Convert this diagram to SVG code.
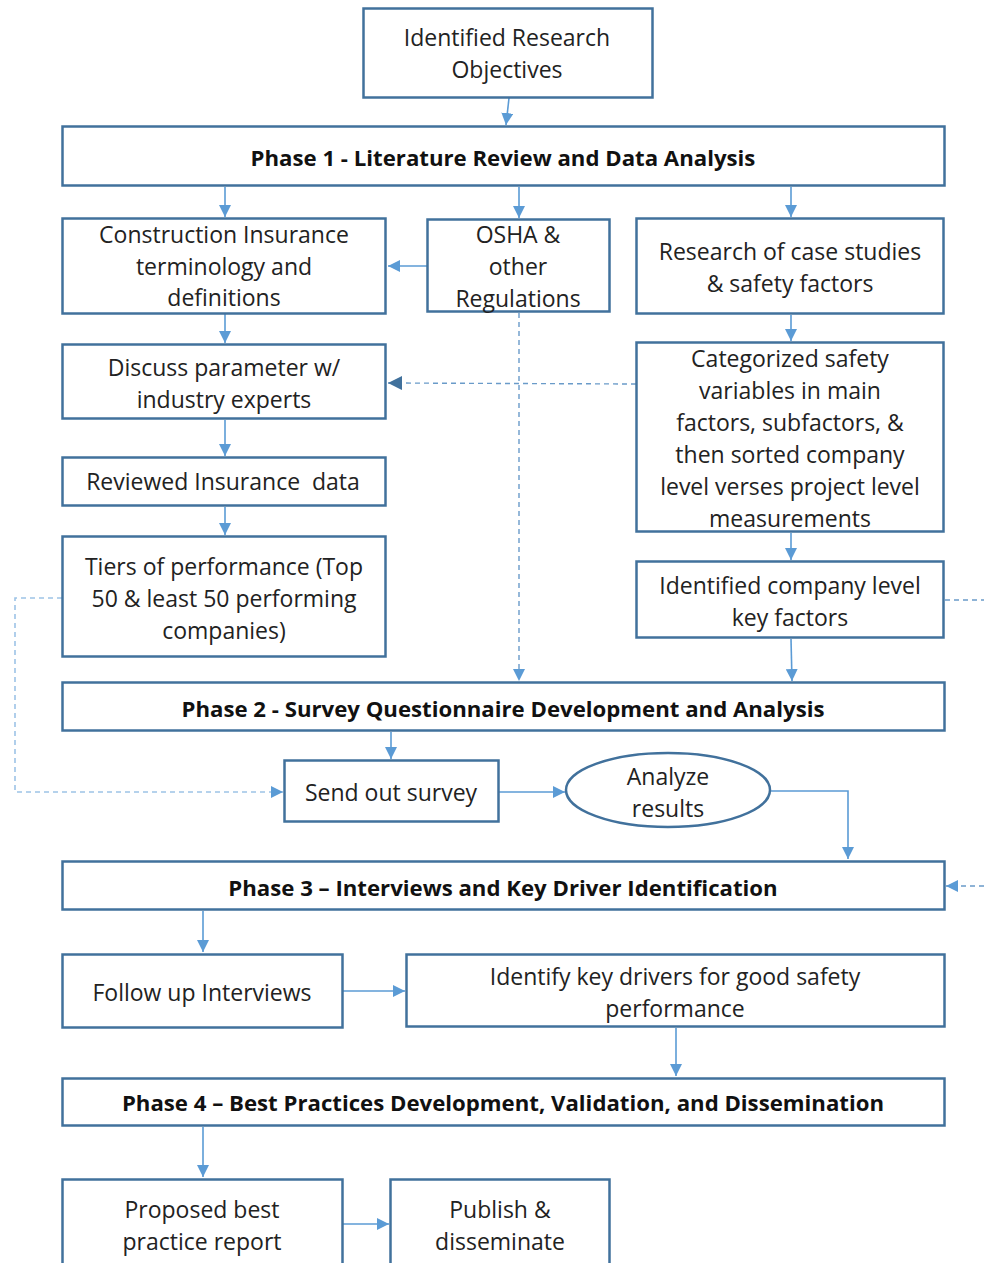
<svg xmlns="http://www.w3.org/2000/svg" width="984" height="1263" viewBox="0 0 984 1263">
<style>
.box{fill:#fff;stroke:#41719c;stroke-width:2.5}
.t{font-family:"Open Sans","Liberation Sans",sans-serif;font-size:23px;fill:#222;text-anchor:middle;dominant-baseline:central}
.b{font-family:"Open Sans","Liberation Sans",sans-serif;font-size:22.2px;font-weight:bold;fill:#111;text-anchor:middle;dominant-baseline:central}
.c{fill:none;stroke:#5b9bd5;stroke-width:1.6}
.d{fill:none;stroke:#6a9bc9;stroke-width:1.4;stroke-dasharray:5,4}
.dl{fill:none;stroke:#9dc3e6;stroke-width:1.6;stroke-dasharray:5,4}
</style>
<defs>
<marker id="a" viewBox="0 0 10 10" refX="10" refY="5" markerWidth="12" markerHeight="12" markerUnits="userSpaceOnUse" orient="auto">
<path d="M0,0L10,5L0,10z" fill="#5b9bd5"/>
</marker>
<marker id="ad" viewBox="0 0 10 10" refX="10" refY="5" markerWidth="14" markerHeight="14" markerUnits="userSpaceOnUse" orient="auto">
<path d="M0,0L10,5L0,10z" fill="#41719c"/>
</marker>
</defs>
<rect width="984" height="1263" fill="#fff"/>
<g id="connectors">
<path class="c" d="M509,98L506,125" marker-end="url(#a)"/>
<path class="c" d="M225,187L225,217" marker-end="url(#a)"/>
<path class="c" d="M519,187L519,218" marker-end="url(#a)"/>
<path class="c" d="M791,187L791,217" marker-end="url(#a)"/>
<path class="c" d="M427,266L388,266" marker-end="url(#a)"/>
<path class="c" d="M225,314L225,343" marker-end="url(#a)"/>
<path class="c" d="M791,315L791,341" marker-end="url(#a)"/>
<path class="d" d="M636,384L388,383" marker-end="url(#ad)"/>
<path class="d" d="M519,313L519,681" marker-end="url(#a)"/>
<path class="c" d="M225,420L225,456" marker-end="url(#a)"/>
<path class="c" d="M225,507L225,535" marker-end="url(#a)"/>
<path class="c" d="M791,533L791,560" marker-end="url(#a)"/>
<path class="c" d="M791,639L792,681" marker-end="url(#a)"/>
<path class="d" d="M945,600L984,600"/>
<path class="dl" d="M62,598L15,598L15,792L283,792" marker-end="url(#a)"/>
<path class="c" d="M391,732L391,759" marker-end="url(#a)"/>
<path class="c" d="M499,792L565,792" marker-end="url(#a)"/>
<path class="c" d="M770,791L848,791L848,859" marker-end="url(#a)"/>
<path class="d" d="M984,886L946,886" marker-end="url(#a)"/>
<path class="c" d="M203,911L203,952" marker-end="url(#a)"/>
<path class="c" d="M343,991L405,991" marker-end="url(#a)"/>
<path class="c" d="M676,1028L676,1076" marker-end="url(#a)"/>
<path class="c" d="M203,1127L203,1177" marker-end="url(#a)"/>
<path class="c" d="M343,1224L389,1224" marker-end="url(#a)"/>
</g>
<g id="n-objectives"><rect class="box" x="363.5" y="8.5" width="289" height="89"/><text class="t" x="507" y="37">Identified Research</text><text class="t" x="507" y="69">Objectives</text></g>
<g id="n-phase1"><rect class="box" x="62.5" y="126.5" width="882" height="59"/><text class="b" x="503" y="157">Phase 1 - Literature Review and Data Analysis</text></g>
<g id="n-construction"><rect class="box" x="62.5" y="218.5" width="323" height="95"/><text class="t" x="224" y="234">Construction Insurance</text><text class="t" x="224" y="266">terminology and</text><text class="t" x="224" y="297">definitions</text></g>
<g id="n-osha"><rect class="box" x="427.5" y="219.5" width="182" height="92"/><text class="t" x="518" y="234">OSHA &amp;</text><text class="t" x="518" y="266">other</text><text class="t" x="518" y="298">Regulations</text></g>
<g id="n-research"><rect class="box" x="636.5" y="218.5" width="307" height="95"/><text class="t" x="790" y="251">Research of case studies</text><text class="t" x="790" y="283">&amp; safety factors</text></g>
<g id="n-discuss"><rect class="box" x="62.5" y="344.5" width="323" height="74"/><text class="t" x="224" y="367">Discuss parameter w/</text><text class="t" x="224" y="399">industry experts</text></g>
<g id="n-categorized"><rect class="box" x="636.5" y="342.5" width="307" height="189"/><text class="t" x="790" y="358">Categorized safety</text><text class="t" x="790" y="390">variables in main</text><text class="t" x="790" y="422">factors, subfactors, &amp;</text><text class="t" x="790" y="454">then sorted company</text><text class="t" x="790" y="486">level verses project level</text><text class="t" x="790" y="518">measurements</text></g>
<g id="n-reviewed"><rect class="box" x="62.5" y="457.5" width="323" height="48"/><text class="t" x="223" y="481" xml:space="preserve">Reviewed Insurance  data</text></g>
<g id="n-tiers"><rect class="box" x="62.5" y="536.5" width="323" height="120"/><text class="t" x="224" y="566">Tiers of performance (Top</text><text class="t" x="224" y="598">50 &amp; least 50 performing</text><text class="t" x="224" y="630">companies)</text></g>
<g id="n-company"><rect class="box" x="636.5" y="561.5" width="307" height="76"/><text class="t" x="790" y="585">Identified company level</text><text class="t" x="790" y="617">key factors</text></g>
<g id="n-phase2"><rect class="box" x="62.5" y="682.5" width="882" height="48"/><text class="b" x="503" y="708">Phase 2 - Survey Questionnaire Development and Analysis</text></g>
<g id="n-send"><rect class="box" x="284.5" y="760.5" width="214" height="61"/><text class="t" x="391" y="792">Send out survey</text></g>
<g id="n-analyze"><ellipse class="box" cx="668" cy="790" rx="102" ry="37"/><text class="t" x="668" y="776">Analyze</text><text class="t" x="668" y="808">results</text></g>
<g id="n-phase3"><rect class="box" x="62.5" y="861.5" width="882" height="48"/><text class="b" x="503" y="887">Phase 3 – Interviews and Key Driver Identification</text></g>
<g id="n-followup"><rect class="box" x="62.5" y="954.5" width="280" height="73"/><text class="t" x="202" y="992">Follow up Interviews</text></g>
<g id="n-drivers"><rect class="box" x="406.5" y="954.5" width="538" height="72"/><text class="t" x="675" y="976">Identify key drivers for good safety</text><text class="t" x="675" y="1008">performance</text></g>
<g id="n-phase4"><rect class="box" x="62.5" y="1078.5" width="882" height="47"/><text class="b" x="503" y="1102">Phase 4 – Best Practices Development, Validation, and Dissemination</text></g>
<g id="n-proposed"><rect class="box" x="62.5" y="1179.5" width="280" height="100"/><text class="t" x="202" y="1209">Proposed best</text><text class="t" x="202" y="1241">practice report</text></g>
<g id="n-publish"><rect class="box" x="390.5" y="1179.5" width="219" height="100"/><text class="t" x="500" y="1209">Publish &amp;</text><text class="t" x="500" y="1241">disseminate</text></g>
</svg>
